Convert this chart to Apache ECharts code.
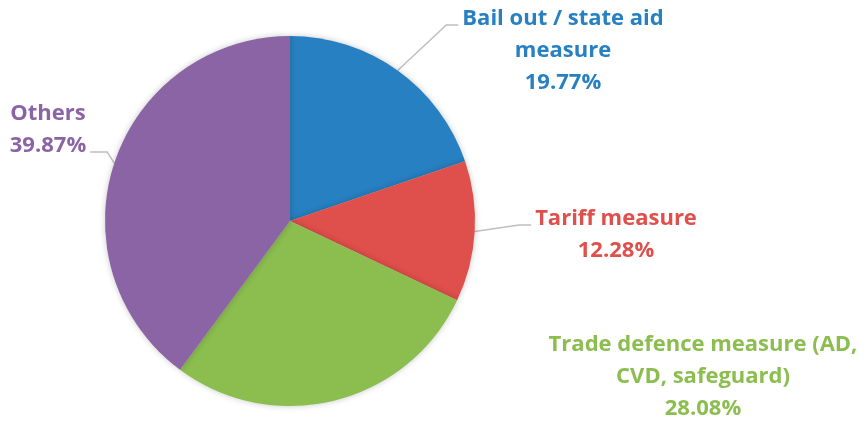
<!DOCTYPE html>
<html>
<head>
<meta charset="utf-8">
<script src="https://cdn.jsdelivr.net/npm/echarts@6/dist/echarts.min.js"></script>
<style>
  html, body { margin: 0; padding: 0; background: #fff; }
  #chart { width: 867px; height: 424px; }
</style>
</head>
<body>
<div id="chart"></div>
<script>
var categories = ['Bail out / state aid\nmeasure', 'Tariff measure', 'Trade defence measure (AD,\nCVD, safeguard)', 'Others'];
var shares = [19.77, 12.28, 28.08, 39.87];
var colors = ['#2780c2', '#df4f4b', '#8bbd4f', '#8a64a4'];

// where each label block sits (center x, middle y) and which side its leader line leaves from
var labelSpots = [
    {x: 563, y: 51, side: 'left', line: 'first'},
    {x: 616, y: 235, side: 'left', line: 'first'},
    {x: 703, y: 377, side: 'none'},
    {x: 48, y: 130, side: 'right', line: 'last'}
];
var LINE_H = 32;

var myChart = echarts.init(document.getElementById('chart'));

var pieData = [];
for (var i = 0; i < categories.length; i++) {
    pieData.push({
        name: categories[i],
        value: shares[i],
        itemStyle: {color: colors[i]},
        label: {color: colors[i]},
        labelLine: {show: labelSpots[i].side != 'none'}
    });
}

var option = {
    animation: false,
    series: [
        {
            type: 'pie',
            center: [290, 221],
            radius: 185,
            startAngle: 90,
            clockwise: true,
            itemStyle: {
                shadowBlur: 6,
                shadowColor: 'rgba(0,0,0,0.22)'
            },
            label: {
                show: true,
                position: 'outside',
                overflow: 'none',
                edgeDistance: 0,
                bleedMargin: 0,
                formatter: function (p) {
                    return p.name + '\n' + p.value.toFixed(2) + '%';
                },
                fontFamily: 'Open Sans',
                fontWeight: 'bold',
                fontSize: 22,
                lineHeight: LINE_H,
                align: 'center'
            },
            labelLine: {
                show: true,
                length: 20,
                length2: 15,
                lineStyle: {color: '#bfbfbf', width: 1.5}
            },
            labelLayout: function (params) {
                var s = labelSpots[params.dataIndex];
                var w = params.labelRect.width;
                var h = params.labelRect.height;
                var res = {x: s.x, y: s.y, align: 'center', verticalAlign: 'middle'};
                if (s.side == 'none' || !params.labelLinePoints) {
                    return res;
                }
                var p0 = params.labelLinePoints[0];
                var top = s.y - h / 2;
                var ly = s.line == 'first' ? top + LINE_H / 2 + 6 : top + h - LINE_H / 2 + 6;
                var p2, p1;
                if (s.side == 'left') {
                    p2 = [s.x - w / 2 - 4, ly];
                    p1 = [p2[0] - 12, ly];
                } else {
                    p2 = [s.x + w / 2 + 4, ly];
                    p1 = [p2[0] + 17, ly];
                }
                res.labelLinePoints = [p0, p1, p2];
                return res;
            },
            data: pieData
        }
    ]
};
myChart.setOption(option);
</script>
</body>
</html>
